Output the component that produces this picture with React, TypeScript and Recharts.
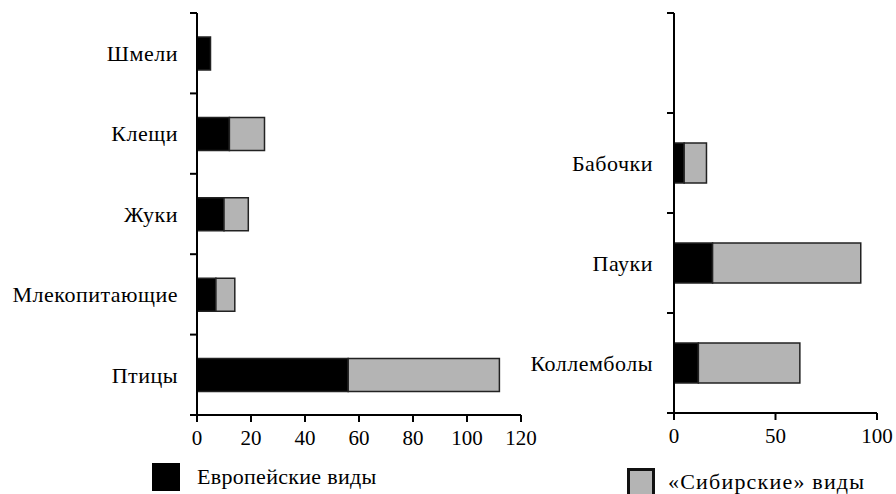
import React from 'react';
import { BarChart, Bar, XAxis, YAxis } from 'recharts';

const leftCategories = ['Шмели', 'Клещи', 'Жуки', 'Млекопитающие', 'Птицы'];
const leftEuropean = [5, 12, 10, 7, 56];
const leftSiberian = [0, 13, 9, 7, 56];
const leftTicks = [0, 20, 40, 60, 80, 100, 120];

const rightCategories = ['', 'Бабочки', 'Пауки', 'Коллемболы'];
const rightEuropean = [0, 5, 19, 12];
const rightSiberian = [0, 11, 73, 50];
const rightTicks = [0, 50, 100];

const legendLabels = ['Европейские виды', '«Сибирские» виды'];

const leftData = leftCategories.map((name, i) => ({ name, eu: leftEuropean[i], sib: leftSiberian[i] }));
const rightData = rightCategories.map((name, i) => ({ name, eu: rightEuropean[i], sib: rightSiberian[i] }));

const FONT = '"Liberation Serif", "Times New Roman", "DejaVu Serif", serif';
const GRAY = '#b4b4b4';

function makeTick(band: number, n: number, axisX: number) {
  return (props: any) => {
    const { x, y, payload, index } = props;
    const top = y - band / 2;
    return (
      <g>
        <line x1={axisX - 7} x2={axisX} y1={top} y2={top} stroke="#000" strokeWidth={2} />
        {index === n - 1 ? (
          <line x1={axisX - 7} x2={axisX} y1={y + band / 2} y2={y + band / 2} stroke="#000" strokeWidth={2} />
        ) : null}
        <text x={x} y={y} textAnchor="end" dy="0.35em" style={{ fontFamily: FONT, fontSize: 22, letterSpacing: 0.5 }} fill="#000">
          {payload.value}
        </text>
      </g>
    );
  };
}

const axisStroke = { stroke: '#000', strokeWidth: 2 };
const RIGHT_LEFT = 480;

export default function App() {
  const leftTop = 13;
  const leftBottom = 415;
  const leftBand = (leftBottom - leftTop) / leftCategories.length;
  const rightTop = 13;
  const rightBottom = 413;
  const rightBand = (rightBottom - rightTop) / rightCategories.length;
  const rightAxisX = 674 - RIGHT_LEFT;
  return (
    <div style={{ position: 'absolute', left: 0, top: 0, width: 896, height: 494, background: '#fff', overflow: 'hidden', fontFamily: FONT }}>
      <div style={{ position: 'absolute', left: 0, top: 0 }}>
        <BarChart
          width={561}
          height={494}
          layout="vertical"
          data={leftData}
          margin={{ top: leftTop, right: 40, bottom: 494 - leftBottom - 30, left: 0 }}
          style={{ fontFamily: FONT }}
        >
          <XAxis
            type="number"
            domain={[0, 120]}
            ticks={leftTicks}
            height={30}
            axisLine={axisStroke}
            tickLine={axisStroke}
            tickSize={7}
            tick={{ fontFamily: FONT, fontSize: 21, fill: '#000' }}
            tickMargin={8}
            interval={0}
          />
          <YAxis
            type="category"
            dataKey="name"
            width={197}
            axisLine={axisStroke}
            tickLine={false}
            tickSize={6}
            tickMargin={13}
            interval={0}
            tick={makeTick(leftBand, leftCategories.length, 197)}
          />
          <Bar dataKey="eu" stackId="a" fill="#000" stroke="#222" strokeWidth={1.5} barSize={33} isAnimationActive={false} />
          <Bar dataKey="sib" stackId="a" fill={GRAY} stroke="#222" strokeWidth={1.5} barSize={33} isAnimationActive={false} />
        </BarChart>
      </div>
      <div style={{ position: 'absolute', left: RIGHT_LEFT, top: 0 }}>
        <BarChart
          width={896 - RIGHT_LEFT}
          height={494}
          layout="vertical"
          data={rightData}
          margin={{ top: rightTop, right: 896 - RIGHT_LEFT - rightAxisX - 203, bottom: 494 - rightBottom - 30, left: 0 }}
          style={{ fontFamily: FONT }}
        >
          <XAxis
            type="number"
            domain={[0, 100]}
            ticks={rightTicks}
            height={30}
            axisLine={axisStroke}
            tickLine={axisStroke}
            tickSize={7}
            tick={{ fontFamily: FONT, fontSize: 21, fill: '#000' }}
            tickMargin={8}
            interval={0}
          />
          <YAxis
            type="category"
            dataKey="name"
            width={rightAxisX}
            axisLine={axisStroke}
            tickLine={false}
            tickSize={6}
            tickMargin={15}
            interval={0}
            tick={makeTick(rightBand, rightCategories.length, rightAxisX)}
          />
          <Bar dataKey="eu" stackId="a" fill="#000" stroke="#222" strokeWidth={1.5} barSize={40} isAnimationActive={false} />
          <Bar dataKey="sib" stackId="a" fill={GRAY} stroke="#222" strokeWidth={1.5} barSize={40} isAnimationActive={false} />
        </BarChart>
      </div>
      <div style={{ position: 'absolute', left: 152, top: 463, width: 28, height: 28, background: '#000' }} />
      <div style={{ position: 'absolute', left: 197, top: 463, fontFamily: FONT, fontSize: 22, letterSpacing: 0.3, color: '#000', lineHeight: '28px', whiteSpace: 'nowrap' }}>
        {legendLabels[0]}
      </div>
      <div style={{ position: 'absolute', left: 627, top: 468, width: 22, height: 26, background: GRAY, border: '3px solid #111' }} />
      <div style={{ position: 'absolute', left: 668, top: 468, fontFamily: FONT, fontSize: 22, letterSpacing: 1.2, color: '#000', lineHeight: '28px', whiteSpace: 'nowrap' }}>
        {legendLabels[1]}
      </div>
    </div>
  );
}
